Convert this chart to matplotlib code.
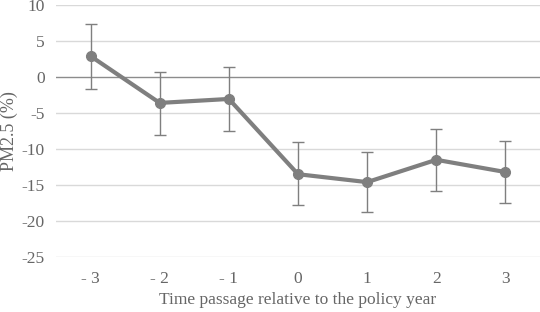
import numpy as np
import matplotlib.pyplot as plt

plt.rcParams['font.family'] = ['Liberation Serif', 'DejaVu Serif']
plt.rcParams['axes.unicode_minus'] = False

#data
years = ['- 3', '- 2', '- 1', '0', '1', '2', '3']
pm25 = [2.9, -3.6, -3.05, -13.5, -14.6, -11.5, -13.2]
err_up = [4.5, 4.3, 4.45, 4.5, 4.2, 4.3, 4.3]
err_dn = [4.5, 4.4, 4.45, 4.3, 4.15, 4.3, 4.3]

gray = '#7f7f7f'
txt = '#666666'

fig = plt.figure(figsize=(5.4, 3.12), dpi=100)
ax = fig.add_axes([56/540, 1-257/312, 484/540, 252/312])

x = np.arange(len(years))
ax.set_xlim(-0.5, len(years)-0.5)
ax.set_ylim(-25, 10)
ax.set_yticks(np.arange(-25, 11, 5))
for yv in np.arange(-25, 11, 5):
	if yv != 0:
		ax.axhline(yv, color='#d9d9d9', lw=1, zorder=0)
ax.axhline(0, color='#8c8c8c', lw=1, zorder=1)

ax.errorbar(x, pm25, yerr=[err_dn, err_up], color=gray, lw=3, marker='o', ms=7,
	ecolor=gray, elinewidth=1, capsize=4, capthick=1, zorder=3)

ax.set_xticks(x)
ax.set_xticklabels(years)
for s in ax.spines.values():
	s.set_visible(False)
ax.tick_params(length=0, colors=txt, labelsize=12.5, pad=10)
ax.tick_params(axis='y', pad=8)
ax.set_xlabel("Time passage relative to the policy year", color=txt, fontsize=12.5, labelpad=4)
ax.set_ylabel("PM2.5 (%)", color=txt, fontsize=13, labelpad=3)

plt.savefig("out.png", dpi=100)
